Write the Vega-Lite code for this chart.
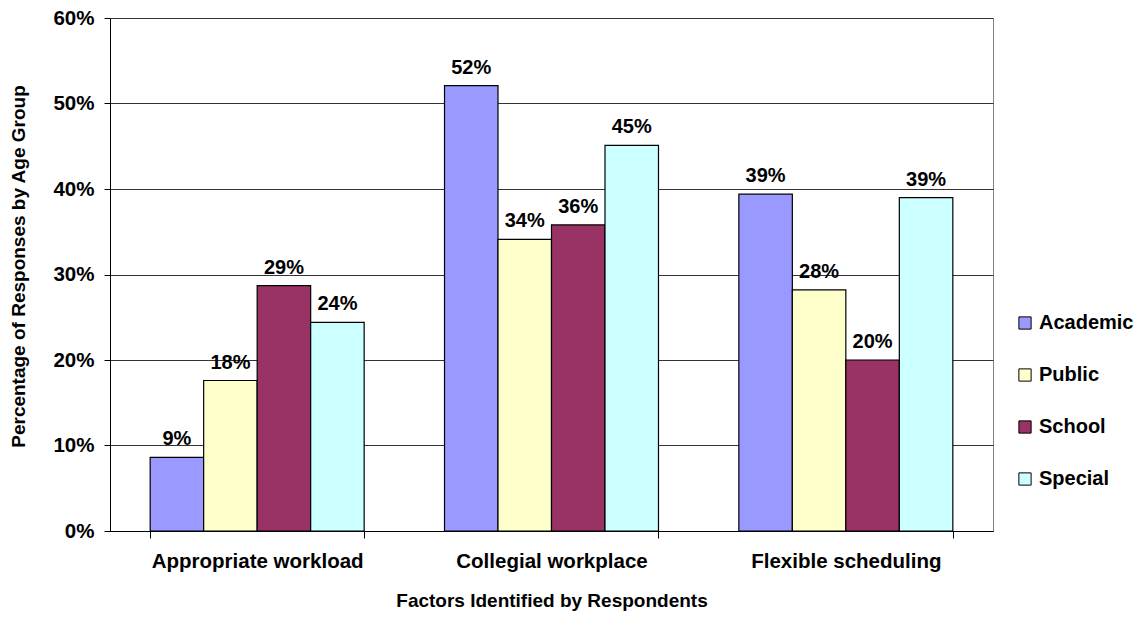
{
  "$schema": "https://vega.github.io/schema/vega-lite/v6.json",
  "width": 883,
  "height": 513,
  "autosize": {"type": "none"},
  "padding": {"left": 110, "top": 18, "right": 142, "bottom": 107},
  "background": "white",
  "config": {"font": "Liberation Sans", "view": {"stroke": "#808080", "strokeWidth": 1}},
  "data": {"values": [
    {"factor": "Appropriate workload", "sector": "Academic", "pct": 0.086},
    {"factor": "Appropriate workload", "sector": "Public", "pct": 0.176},
    {"factor": "Appropriate workload", "sector": "School", "pct": 0.287},
    {"factor": "Appropriate workload", "sector": "Special", "pct": 0.244},
    {"factor": "Collegial workplace", "sector": "Academic", "pct": 0.521},
    {"factor": "Collegial workplace", "sector": "Public", "pct": 0.341},
    {"factor": "Collegial workplace", "sector": "School", "pct": 0.358},
    {"factor": "Collegial workplace", "sector": "Special", "pct": 0.451},
    {"factor": "Flexible scheduling", "sector": "Academic", "pct": 0.394},
    {"factor": "Flexible scheduling", "sector": "Public", "pct": 0.282},
    {"factor": "Flexible scheduling", "sector": "School", "pct": 0.200},
    {"factor": "Flexible scheduling", "sector": "Special", "pct": 0.390}
  ]},
  "encoding": {
    "x": {
      "field": "factor", "type": "nominal",
      "sort": ["Appropriate workload", "Collegial workplace", "Flexible scheduling"],
      "scale": {"paddingInner": 0.273, "paddingOuter": 0.1365},
      "title": "Factors Identified by Respondents",
      "axis": {
        "labelAngle": 0, "labelFontSize": 20.5, "labelFontWeight": "bold", "labelColor": "black", "labelLimit": 0,
        "labelPadding": 13, "tickBand": "extent", "ticks": true, "tickSize": 7, "tickColor": "black",
        "domainColor": "black", "titleFontSize": 19, "titleFontWeight": "bold", "titleColor": "black",
        "titleY": 69, "titleBaseline": "middle"
      }
    },
    "xOffset": {"field": "sector", "type": "nominal", "sort": ["Academic", "Public", "School", "Special"], "scale": {"paddingInner": 0, "paddingOuter": 0}},
    "y": {
      "field": "pct", "type": "quantitative",
      "scale": {"domain": [0, 0.6]},
      "title": "Percentage of Responses by Age Group",
      "axis": {
        "values": [0, 0.1, 0.2, 0.3, 0.4, 0.5, 0.6], "format": ".0%",
        "labelFontSize": 20.5, "labelFontWeight": "bold", "labelColor": "black", "labelPadding": 10,
        "tickSize": 6, "tickColor": "black", "domainColor": "black", "gridColor": "#333333",
        "titleFontSize": 19, "titleFontWeight": "bold", "titleColor": "black",
        "titleAngle": 270, "titleAlign": "center", "titleBaseline": "top", "titleX": -101, "titleY": 248
      }
    }
  },
  "layer": [
    {
      "mark": {"type": "bar", "stroke": "black", "strokeWidth": 1.2},
      "encoding": {
        "color": {
          "field": "sector", "type": "nominal",
          "scale": {"domain": ["Academic", "Public", "School", "Special"], "range": ["#9999FF", "#FFFFCC", "#993366", "#CCFFFF"]},
          "legend": {
            "orient": "none", "legendX": 905, "legendY": 295, "title": null,
            "symbolType": "square", "symbolSize": 150, "symbolStrokeColor": "black", "symbolStrokeWidth": 1,
            "labelFontSize": 20, "labelFontWeight": "bold", "labelColor": "black", "rowPadding": 32, "labelOffset": 4
          }
        }
      }
    },
    {
      "mark": {"type": "text", "dy": -12, "baseline": "alphabetic", "fontWeight": "bold", "fontSize": 20, "color": "black"},
      "encoding": {"text": {"field": "pct", "type": "quantitative", "format": ".0%"}}
    }
  ]
}
